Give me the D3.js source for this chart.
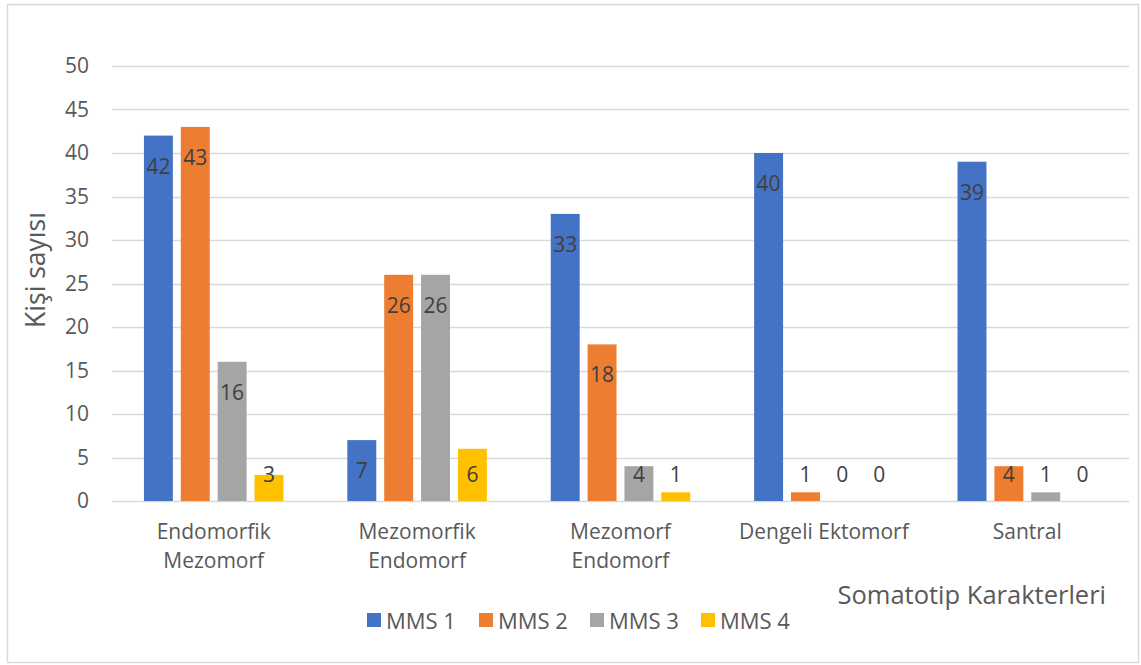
<!DOCTYPE html>
<html>
<head>
<meta charset="utf-8">
<script src="https://cdn.jsdelivr.net/npm/d3@7"></script>
<style>
  html, body { margin: 0; padding: 0; background: #fff; }
  svg { display: block; font-family: "Open Sans", "Noto Sans", sans-serif; }
</style>
</head>
<body>
<svg id="chart" width="1141" height="665"></svg>
<script>
// Somatotype characters (category axis), line breaks as shown under the axis
const categories = [
  "Endomorfik\nMezomorf",
  "Mezomorfik\nEndomorf",
  "Mezomorf\nEndomorf",
  "Dengeli Ektomorf",
  "Santral"
];
const seriesNames = ["MMS 1", "MMS 2", "MMS 3", "MMS 4"];
const mms1 = [42, 7, 33, 40, 39];
const mms2 = [43, 26, 18, 1, 4];
const mms3 = [16, 26, 4, 0, 1];
const mms4 = [3, 6, 1, 0, 0];
const yTicks = [0, 5, 10, 15, 20, 25, 30, 35, 40, 45, 50];
const colors = ["#4472C4", "#ED7D31", "#A5A5A5", "#FFC000"];
const yTitle = "Kişi sayısı";
const xTitle = "Somatotip Karakterleri";

const seriesValues = [mms1, mms2, mms3, mms4];

const svg = d3.select("#chart");
const plot = { left: 112, right: 1129, top: 66, bottom: 501 };

// outer chart frame
svg.append("rect")
  .attr("x", 7.5).attr("y", 4.5)
  .attr("width", 1131).attr("height", 658)
  .attr("fill", "#fff").attr("stroke", "#d9d9d9").attr("stroke-width", 1.5);

const x0 = d3.scaleBand().domain(d3.range(categories.length))
  .range([plot.left, plot.right]).paddingInner(0).paddingOuter(0);
const groupPad = 0.157;
const x1 = d3.scaleBand().domain(d3.range(seriesNames.length))
  .range([x0.bandwidth() * groupPad, x0.bandwidth() * (1 - groupPad)])
  .paddingInner(0.215).paddingOuter(0);
const y = d3.scaleLinear().domain([0, 50]).range([plot.bottom, plot.top]);

// horizontal gridlines
svg.append("g").selectAll("line").data(yTicks).join("line")
  .attr("x1", plot.left).attr("x2", plot.right)
  .attr("y1", d => Math.round(y(d)) + 0.5).attr("y2", d => Math.round(y(d)) + 0.5)
  .attr("stroke", "#d9d9d9").attr("stroke-width", 1.5);

// y axis tick labels
const yAxis = d3.axisLeft(y).tickValues(yTicks).tickSize(0).tickPadding(0);
const gy = svg.append("g").attr("transform", `translate(${plot.left - 23},0)`).call(yAxis);
gy.select(".domain").remove();
gy.selectAll("text")
  .attr("fill", "#595959").attr("font-size", 21)
  .attr("font-family", "'Open Sans', 'Noto Sans', sans-serif");

// bars
const groups = svg.append("g").selectAll("g").data(categories).join("g")
  .attr("transform", (d, i) => `translate(${x0(i)},0)`);

groups.each(function(c, ci) {
  const g = d3.select(this);
  seriesValues.forEach((vals, si) => {
    const v = vals[ci];
    const bx = x1(si);
    const bw = x1.bandwidth();
    if (v > 0) {
      g.append("rect")
        .attr("x", bx).attr("y", y(v))
        .attr("width", bw).attr("height", y(0) - y(v))
        .attr("fill", colors[si]);
    }
    // value label near the inside end of the bar
    const ly = Math.min(y(v) + 30, y(0) - 27);
    g.append("text")
      .attr("x", bx + bw / 2).attr("y", ly)
      .attr("text-anchor", "middle").attr("dominant-baseline", "central")
      .attr("fill", "#404040").attr("font-size", 21)
      .text(v);
  });
});

// category labels
const catG = svg.append("g");
categories.forEach((c, i) => {
  const lines = c.split("\n");
  const cx = x0(i) + x0.bandwidth() / 2;
  const t = catG.append("text")
    .attr("x", cx).attr("y", 532)
    .attr("text-anchor", "middle")
    .attr("fill", "#595959").attr("font-size", 21);
  lines.forEach((ln, k) => {
    t.append("tspan")
      .attr("x", cx)
      .attr("dy", k === 0 ? "0.35em" : 29)
      .text(ln);
  });
});

// y axis title
svg.append("text")
  .attr("transform", "translate(35,270) rotate(-90)")
  .attr("text-anchor", "middle").attr("dominant-baseline", "central")
  .attr("fill", "#595959").attr("font-size", 26.5)
  .text(yTitle);

// x axis title
svg.append("text")
  .attr("x", 1106).attr("y", 594)
  .attr("text-anchor", "end").attr("dominant-baseline", "central")
  .attr("fill", "#595959").attr("font-size", 25.5)
  .text(xTitle);

// legend
const legend = svg.append("g");
const legX = [367, 479, 590, 701];
seriesNames.forEach((n, i) => {
  legend.append("rect")
    .attr("x", legX[i]).attr("y", 613)
    .attr("width", 14).attr("height", 14)
    .attr("fill", colors[i]);
  legend.append("text")
    .attr("x", legX[i] + 19).attr("y", 620)
    .attr("dominant-baseline", "central")
    .attr("fill", "#595959").attr("font-size", 22)
    .text(n);
});
</script>
</body>
</html>
